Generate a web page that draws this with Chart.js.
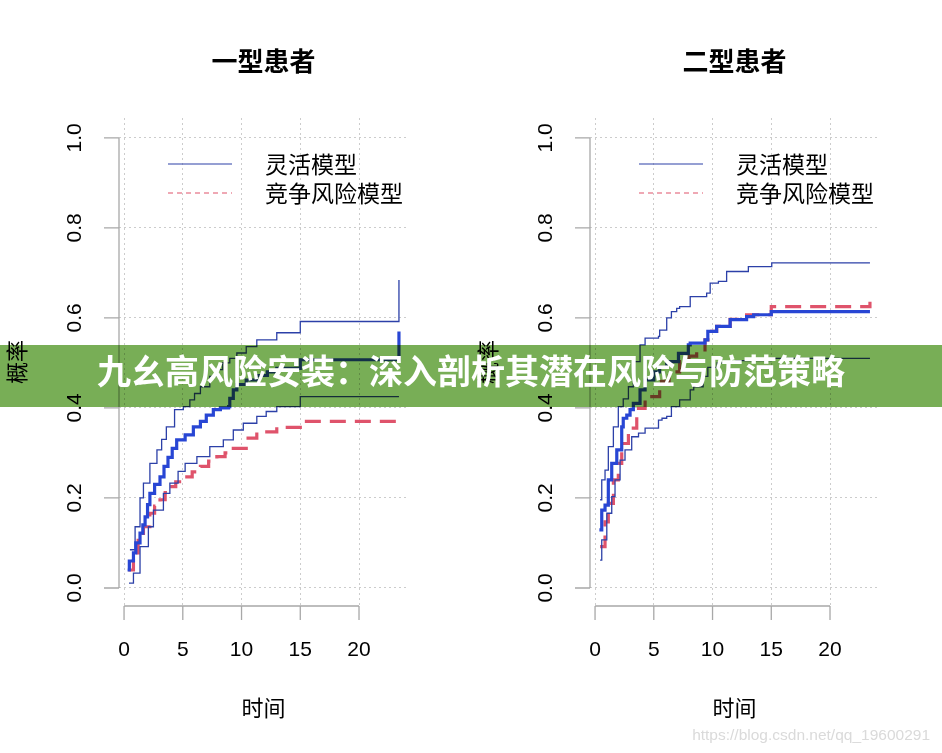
<!DOCTYPE html>
<html>
<head>
<meta charset="utf-8">
<script src="https://cdn.jsdelivr.net/npm/chart.js@4.4.1/dist/chart.umd.min.js"></script>
<style>
  body { margin: 0; background: #fff; width: 942px; height: 753px; position: relative; overflow: hidden; }
  canvas { position: absolute; top: 0; }
  #banner { position: absolute; left: 0; top: 345px; width: 942px; height: 62px; background: rgb(120,174,86); mix-blend-mode: multiply; }
  #bannerText { position: absolute; left: 0; top: 345px; width: 942px; height: 62px; line-height: 62px; text-align: center;
    color: #fff; font: bold 34px "Noto Sans CJK SC", sans-serif; }
  #mark { position: absolute; right: 12px; top: 726px; color: #dadada; font: 15.5px "Liberation Sans", Arial, sans-serif; }
</style>
</head>
<body>
<canvas id="left" width="471" height="753" style="left:0"></canvas>
<canvas id="right" width="471" height="753" style="left:471px"></canvas>
<div id="banner"></div>
<div id="bannerText">九幺高风险安装：深入剖析其潜在风险与防范策略</div>
<div id="mark">https://blog.csdn.net/qq_19600291</div>
<script>
const xTicks = [0, 5, 10, 15, 20];
const yTicks = [0, 0.2, 0.4, 0.6, 0.8, 1.0];
const legendLabels = ['灵活模型', '竞争风险模型'];

// 一型患者
const t1Est = [0.3, 0.45, 0.8, 1.0, 1.36, 1.6, 1.79, 2.0, 2.2, 2.6, 3.06, 3.4, 3.74, 4.1, 4.48, 5.2, 5.9, 6.5, 7.0, 7.6, 8.2, 8.9, 9.0, 9.3, 9.6, 10.4, 11.3, 12.2, 13.0, 15.0, 23.4, 23.4];
const y1Est = [0.04, 0.06, 0.078, 0.1, 0.122, 0.14, 0.158, 0.185, 0.21, 0.23, 0.247, 0.27, 0.29, 0.31, 0.329, 0.34, 0.358, 0.37, 0.384, 0.396, 0.4, 0.403, 0.421, 0.44, 0.452, 0.462, 0.472, 0.48, 0.488, 0.507, 0.507, 0.57];
const t1Up = [0.5, 0.94, 1.36, 1.65, 2.2, 2.8, 3.2, 3.6, 4.3, 5.05, 5.6, 6.0, 6.5, 7.3, 7.8, 8.4, 9.0, 9.6, 10.4, 11.3, 13.0, 15.0, 23.4, 23.4];
const y1Up = [0.085, 0.136, 0.2, 0.233, 0.277, 0.307, 0.33, 0.358, 0.396, 0.403, 0.418, 0.432, 0.447, 0.47, 0.485, 0.5, 0.51, 0.522, 0.536, 0.551, 0.567, 0.592, 0.592, 0.684];
const t1Lo = [0.42, 0.8, 1.36, 2.07, 2.5, 3.35, 3.9, 4.6, 5.2, 6.2, 7.3, 8.45, 9.3, 10.15, 11.3, 12.1, 13.0, 15.0, 23.4];
const y1Lo = [0.011, 0.033, 0.092, 0.136, 0.173, 0.21, 0.233, 0.259, 0.277, 0.292, 0.314, 0.329, 0.351, 0.366, 0.381, 0.392, 0.403, 0.425, 0.425];
const t1Cr = [0.37, 0.8, 1.2, 1.65, 2.2, 2.6, 3.06, 3.5, 3.9, 4.4, 5.05, 5.8, 6.5, 7.2, 7.9, 8.6, 9.3, 10.4, 11.3, 13.0, 15.0, 23.4, 23.4];
const y1Cr = [0.04, 0.078, 0.11, 0.136, 0.166, 0.182, 0.196, 0.212, 0.225, 0.236, 0.247, 0.258, 0.27, 0.282, 0.292, 0.3, 0.31, 0.333, 0.347, 0.357, 0.37, 0.37, 0.373];

// 二型患者
const t2Est = [0.37, 0.57, 0.85, 1.13, 1.42, 1.85, 2.27, 2.4, 2.7, 2.98, 3.26, 3.83, 4.26, 5.0, 5.5, 6.1, 7.1, 7.94, 8.1, 9.36, 9.6, 10.35, 11.5, 12.9, 13.5, 15.0, 23.4];
const y2Est = [0.129, 0.173, 0.184, 0.24, 0.277, 0.307, 0.358, 0.377, 0.384, 0.396, 0.41, 0.44, 0.462, 0.48, 0.49, 0.503, 0.521, 0.54, 0.544, 0.551, 0.57, 0.581, 0.596, 0.603, 0.607, 0.614, 0.614];
const t2Up = [0.43, 0.57, 0.85, 1.13, 1.56, 1.98, 2.4, 2.84, 3.26, 3.83, 4.26, 5.4, 5.5, 6.1, 6.5, 6.95, 7.2, 8.1, 9.5, 9.8, 10.5, 11.2, 13.05, 15.04, 23.4];
const y2Up = [0.196, 0.24, 0.262, 0.314, 0.358, 0.403, 0.42, 0.447, 0.503, 0.54, 0.555, 0.559, 0.573, 0.6, 0.614, 0.621, 0.625, 0.647, 0.655, 0.677, 0.681, 0.703, 0.714, 0.722, 0.722];
const t2Lo = [0.43, 0.57, 1.0, 1.42, 1.7, 2.13, 2.55, 3.12, 3.7, 4.26, 5.4, 5.7, 6.1, 6.5, 7.2, 8.1, 8.4, 9.2, 9.6, 10.4, 12.0, 15.0, 23.4];
const y2Lo = [0.062, 0.107, 0.166, 0.203, 0.24, 0.284, 0.307, 0.336, 0.344, 0.355, 0.373, 0.377, 0.381, 0.403, 0.418, 0.44, 0.447, 0.47, 0.49, 0.5, 0.505, 0.51, 0.51];
const t2Cr = [0.43, 0.85, 1.13, 1.56, 1.98, 2.27, 2.84, 3.55, 4.26, 5.5, 6.3, 7.2, 8.0, 8.65, 9.36, 9.6, 10.35, 11.5, 12.9, 15.0, 23.4, 23.4];
const y2Cr = [0.092, 0.147, 0.188, 0.24, 0.277, 0.321, 0.355, 0.399, 0.425, 0.459, 0.48, 0.503, 0.515, 0.525, 0.551, 0.57, 0.581, 0.597, 0.607, 0.625, 0.625, 0.636];

const thinBlue = '#2c40a8';
const thickBlue = '#2846d4';
const red = '#df536b';

function pts(t, v) { return t.map((x, i) => ({ x: x, y: v[i] })); }

// R-style axes, labels, title and legend drawn from the chart's own scales
const rAxes = {
  id: 'rAxes',
  afterDraw(chart, args, opts) {
    const { ctx, chartArea: a, scales: { x, y } } = chart;
    ctx.save();
    ctx.strokeStyle = '#a8a8a8';
    ctx.lineWidth = 1.3;
    ctx.beginPath();
    ctx.moveTo(x.getPixelForValue(xTicks[0]), a.bottom);
    ctx.lineTo(x.getPixelForValue(xTicks[xTicks.length - 1]), a.bottom);
    xTicks.forEach(v => {
      const px = x.getPixelForValue(v);
      ctx.moveTo(px, a.bottom); ctx.lineTo(px, a.bottom + 14);
    });
    ctx.moveTo(a.left, y.getPixelForValue(yTicks[0]));
    ctx.lineTo(a.left, y.getPixelForValue(yTicks[yTicks.length - 1]));
    yTicks.forEach(v => {
      const py = y.getPixelForValue(v);
      ctx.moveTo(a.left, py); ctx.lineTo(a.left - 15, py);
    });
    ctx.stroke();

    ctx.fillStyle = '#000';
    ctx.textAlign = 'center';
    ctx.textBaseline = 'middle';
    ctx.font = '21px "Liberation Sans", Arial, sans-serif';
    xTicks.forEach(v => ctx.fillText(String(v), x.getPixelForValue(v), a.bottom + 44));
    yTicks.forEach(v => {
      ctx.save();
      ctx.translate(a.left - 44, y.getPixelForValue(v));
      ctx.rotate(-Math.PI / 2);
      ctx.fillText(v.toFixed(1), 0, 0);
      ctx.restore();
    });

    const cx = (a.left + a.right) / 2;
    ctx.font = '22px "Noto Sans CJK SC", sans-serif';
    ctx.fillText('时间', cx, a.bottom + 102);
    ctx.save();
    ctx.translate(a.left - 102, (a.top + a.bottom) / 2);
    ctx.rotate(-Math.PI / 2);
    ctx.fillText('概率', 0, 0);
    ctx.restore();

    ctx.font = 'bold 26px "Noto Sans CJK SC", sans-serif';
    ctx.fillText(opts.title, cx, a.top - 57);

    // legend
    ctx.font = '23px "Noto Sans CJK SC", sans-serif';
    ctx.textAlign = 'left';
    const rows = [a.top + 46, a.top + 75];
    ctx.lineWidth = 1.2;
    ctx.strokeStyle = thinBlue;
    ctx.beginPath(); ctx.moveTo(a.left + 49, rows[0]); ctx.lineTo(a.left + 113, rows[0]); ctx.stroke();
    ctx.strokeStyle = red;
    ctx.setLineDash([5, 4]);
    ctx.beginPath(); ctx.moveTo(a.left + 49, rows[1]); ctx.lineTo(a.left + 113, rows[1]); ctx.stroke();
    ctx.setLineDash([]);
    legendLabels.forEach((l, i) => ctx.fillText(l, a.left + 146, rows[i]));
    ctx.restore();
  }
};

function makePanel(id, title, est, up, lo, cr) {
  new Chart(document.getElementById(id), {
    type: 'line',
    data: {
      datasets: [
        { data: est, borderColor: thickBlue, borderWidth: 3.2, stepped: true },
        { data: up, borderColor: thinBlue, borderWidth: 1.3, stepped: true },
        { data: lo, borderColor: thinBlue, borderWidth: 1.3, stepped: true },
        { data: cr, borderColor: red, borderWidth: 3.2, borderDash: [16, 9], stepped: true }
      ]
    },
    options: {
      responsive: false,
      animation: false,
      layout: { padding: { left: 119, right: 63, top: 118, bottom: 147 } },
      elements: { point: { radius: 0 } },
      plugins: { legend: { display: false }, tooltip: { enabled: false }, rAxes: { title: title } },
      scales: {
        x: {
          type: 'linear', min: -0.43, max: 24.17,
          afterBuildTicks: s => { s.ticks = xTicks.map(v => ({ value: v })); },
          afterFit: s => { s.height = 0; },
          ticks: { display: false },
          grid: { color: '#cccccc', lineWidth: 1, drawTicks: false },
          border: { display: false, dash: [2, 3] }
        },
        y: {
          type: 'linear', min: -0.04, max: 1.044,
          afterBuildTicks: s => { s.ticks = yTicks.map(v => ({ value: v })); },
          afterFit: s => { s.width = 0; },
          ticks: { display: false },
          grid: { color: '#cccccc', lineWidth: 1, drawTicks: false },
          border: { display: false, dash: [2, 3] }
        }
      }
    },
    plugins: [rAxes]
  });
}

makePanel('left', '一型患者', pts(t1Est, y1Est), pts(t1Up, y1Up), pts(t1Lo, y1Lo), pts(t1Cr, y1Cr));
makePanel('right', '二型患者', pts(t2Est, y2Est), pts(t2Up, y2Up), pts(t2Lo, y2Lo), pts(t2Cr, y2Cr));
</script>
</body>
</html>
